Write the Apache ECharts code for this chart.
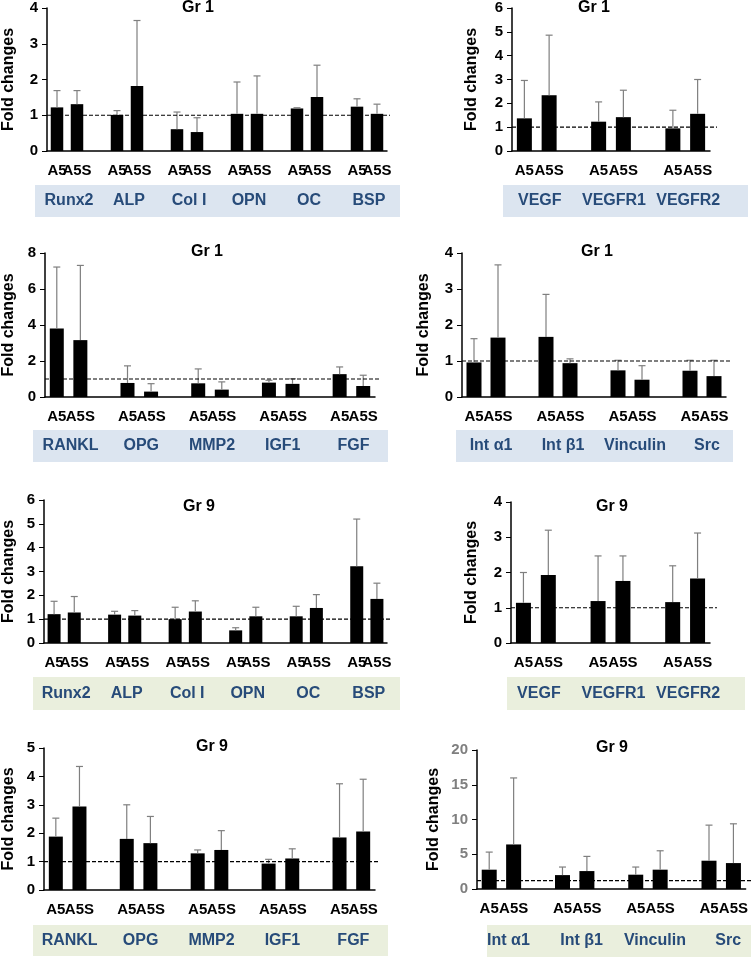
<!DOCTYPE html>
<html>
<head>
<meta charset="utf-8">
<script src="https://cdn.jsdelivr.net/npm/echarts@6/dist/echarts.min.js"></script>
<style>
  html, body { margin: 0; padding: 0; background: #fff; }
  #chart { width: 751px; height: 958px; }
</style>
</head>
<body>
<div id="chart"></div>
<script>
// treatments shown under every bar pair
const treatments = ["A5", "A5S"];

// gene groups
const osteoGenes = ["Runx2", "ALP", "Col I", "OPN", "OC", "BSP"];
const vegfGenes = ["VEGF", "VEGFR1", "VEGFR2"];
const boneGenes = ["RANKL", "OPG", "MMP2", "IGF1", "FGF"];
const adhesionGenes = ["Int α1", "Int β1", "Vinculin", "Src"];

// fold changes, pairs of [A5, A5S] per gene, plus upper SD
const gr1OsteoMean = [1.22, 1.31, 1.01, 1.82, 0.61, 0.53, 1.04, 1.04, 1.19, 1.51, 1.24, 1.04];
const gr1OsteoSd = [0.47, 0.38, 0.12, 1.83, 0.48, 0.40, 0.89, 1.06, 0.02, 0.89, 0.22, 0.27];

const gr1VegfMean = [1.37, 2.34, 1.23, 1.42, 0.95, 1.56];
const gr1VegfSd = [1.59, 2.52, 0.83, 1.13, 0.76, 1.44];

const gr1BoneMean = [3.81, 3.16, 0.78, 0.30, 0.76, 0.41, 0.80, 0.73, 1.27, 0.61];
const gr1BoneSd = [3.41, 4.15, 0.95, 0.44, 0.80, 0.43, 0.13, 0.28, 0.40, 0.60];

const gr1AdhMean = [0.96, 1.65, 1.67, 0.94, 0.74, 0.48, 0.73, 0.58];
const gr1AdhSd = [0.66, 2.02, 1.18, 0.12, 0.28, 0.39, 0.29, 0.44];

const gr9OsteoMean = [1.21, 1.28, 1.19, 1.15, 1.00, 1.32, 0.53, 1.12, 1.12, 1.47, 3.22, 1.85];
const gr9OsteoSd = [0.54, 0.67, 0.14, 0.21, 0.50, 0.45, 0.11, 0.38, 0.42, 0.56, 1.98, 0.66];

const gr9VegfMean = [1.14, 1.93, 1.19, 1.76, 1.16, 1.83];
const gr9VegfSd = [0.86, 1.27, 1.28, 0.71, 1.03, 1.29];

const gr9BoneMean = [1.88, 2.94, 1.80, 1.65, 1.29, 1.41, 0.93, 1.11, 1.85, 2.06];
const gr9BoneSd = [0.65, 1.41, 1.20, 0.94, 0.12, 0.68, 0.15, 0.34, 1.89, 1.84];

const gr9AdhMean = [2.78, 6.41, 2.00, 2.58, 2.06, 2.78, 4.07, 3.73];
const gr9AdhSd = [2.53, 9.57, 1.16, 2.11, 1.10, 2.72, 5.12, 5.65];

// dashed reference level of each panel
const refLevels = [1, 1, 1, 1, 1, 1, 1, 1.2];

const FONT = '"Liberation Sans", Arial, sans-serif';
const BLUE_BAND = "#dce5f0";
const GREEN_BAND = "#eaefdd";
const GENE_COLOR = "#274b79";
const ERR_COLOR = "#7f7f7f";

const panels = [
  { title: "Gr 1", genes: osteoGenes, mean: gr1OsteoMean, sd: gr1OsteoSd, ref: refLevels[0], yMax: 4, yStep: 1,
    grid: { left: 43, top: 8, width: 344, height: 143 }, barWidth: 12.5, titleAt: [198, 8], nameGap: 30,
    band: [35, 185, 365, 32, BLUE_BAND], refExt: 3, geneShift: 2 },
  { title: "Gr 1", genes: vegfGenes, mean: gr1VegfMean, sd: gr1VegfSd, ref: refLevels[1], yMax: 6, yStep: 1,
    grid: { left: 512, top: 8, width: 198, height: 143 }, barWidth: 15, titleAt: [594, 8], nameGap: 32,
    band: [503, 185, 245, 32, BLUE_BAND], refExt: 7, geneShift: 3 },
  { title: "Gr 1", genes: boneGenes, mean: gr1BoneMean, sd: gr1BoneSd, ref: refLevels[2], yMax: 8, yStep: 2,
    grid: { left: 41, top: 253, width: 334, height: 144 }, barWidth: 14, titleAt: [207, 252], nameGap: 28,
    band: [33, 430, 355, 32, BLUE_BAND], refExt: 5, geneShift: 2 },
  { title: "Gr 1", genes: adhesionGenes, mean: gr1AdhMean, sd: gr1AdhSd, ref: refLevels[3], yMax: 4, yStep: 1,
    grid: { left: 462, top: 253, width: 264, height: 144 }, barWidth: 15, titleAt: [597, 252], nameGap: 30,
    band: [456, 430, 277, 32, BLUE_BAND], refExt: 6, geneShift: 5 },
  { title: "Gr 9", genes: osteoGenes, mean: gr9OsteoMean, sd: gr9OsteoSd, ref: refLevels[4], yMax: 6, yStep: 1,
    grid: { left: 40, top: 500, width: 347, height: 143 }, barWidth: 13, titleAt: [199, 507], nameGap: 27,
    band: [33, 677, 367, 33, GREEN_BAND], refExt: 5, geneShift: 2 },
  { title: "Gr 9", genes: vegfGenes, mean: gr9VegfMean, sd: gr9VegfSd, ref: refLevels[5], yMax: 4, yStep: 1,
    grid: { left: 511, top: 502, width: 199, height: 141 }, barWidth: 15, titleAt: [612, 507], nameGap: 31,
    band: [507, 677, 238, 33, GREEN_BAND], refExt: 7, geneShift: 3 },
  { title: "Gr 9", genes: boneGenes, mean: gr9BoneMean, sd: gr9BoneSd, ref: refLevels[6], yMax: 5, yStep: 1,
    grid: { left: 40, top: 748, width: 335, height: 142 }, barWidth: 14, titleAt: [212, 747], nameGap: 27,
    band: [33, 925, 355, 31, GREEN_BAND], refExt: 4, geneShift: 2 },
  { title: "Gr 9", genes: adhesionGenes, mean: gr9AdhMean, sd: gr9AdhSd, ref: refLevels[7], yMax: 20, yStep: 5,
    grid: { left: 477, top: 750, width: 269, height: 139 }, barWidth: 15, titleAt: [612, 748], nameGap: 35,
    band: [487, 925, 264, 32, GREEN_BAND], refExt: 8, geneShift: 7, tickColor: "#7f7f7f" },
];

const chart = echarts.init(document.getElementById("chart"));

const grids = [];
const xAxes = [];
const yAxes = [];
const series = [];
const graphics = [];

panels.forEach((p, i) => {
  const cats = [];
  const bars = [];
  const errs = [];
  const geneSlots = [];
  p.genes.forEach((g, gi) => {
    if (gi > 0) {
      cats.push("");
      bars.push("-");
    }
    geneSlots.push([cats.length, 0, gi]);
    treatments.forEach((t, ti) => {
      const k = gi * 2 + ti;
      errs.push([cats.length, p.mean[k], p.mean[k] + p.sd[k]]);
      cats.push(t);
      bars.push(p.mean[k]);
    });
  });
  const lastSlot = cats.length - 1;
  const bandMid = p.band[1] + p.band[3] / 2;

  grids.push(p.grid);
  xAxes.push({
    gridIndex: i,
    type: "category",
    data: cats,
    axisLine: { lineStyle: { color: "#000", width: 1.5 } },
    axisTick: { show: false },
    axisLabel: { interval: 0, color: "#000", fontWeight: "bold", fontSize: 15, fontFamily: FONT, margin: 12 },
  });
  yAxes.push({
    gridIndex: i,
    type: "value",
    min: 0,
    max: p.yMax,
    interval: p.yStep,
    name: "Fold changes",
    nameLocation: "middle",
    nameGap: p.nameGap,
    nameTextStyle: { color: "#000", fontWeight: "bold", fontSize: 16, fontFamily: FONT },
    axisLine: { show: true, lineStyle: { color: "#000", width: 1.5 } },
    axisTick: { show: true, length: 5, lineStyle: { color: "#000", width: 1 } },
    splitLine: { show: false },
    axisLabel: { color: p.tickColor || "#000", fontWeight: "bold", fontSize: 15, fontFamily: FONT, margin: 9 },
  });

  series.push({
    type: "bar",
    xAxisIndex: i,
    yAxisIndex: i,
    data: bars,
    barWidth: p.barWidth,
    itemStyle: { color: "#000" },
    z: 3,
  });
  // upper error bars
  series.push({
    type: "custom",
    xAxisIndex: i,
    yAxisIndex: i,
    data: errs,
    z: 4,
    renderItem: (params, api) => {
      const base = api.coord([api.value(0), api.value(1)]);
      const top = api.coord([api.value(0), api.value(2)]);
      const style = { stroke: ERR_COLOR, lineWidth: 1.2 };
      return {
        type: "group",
        children: [
          { type: "line", shape: { x1: base[0], y1: base[1], x2: top[0], y2: top[1] }, style },
          { type: "line", shape: { x1: top[0] - 3.5, y1: top[1], x2: top[0] + 3.5, y2: top[1] }, style },
        ],
      };
    },
  });
  // dashed reference line
  series.push({
    type: "custom",
    xAxisIndex: i,
    yAxisIndex: i,
    data: [[0, p.ref]],
    z: 5,
    renderItem: (params, api) => {
      const start = api.coord([0, api.value(1)]);
      const end = api.coord([lastSlot, api.value(1)]);
      const half = api.size([1, 0])[0] / 2;
      return {
        type: "line",
        shape: { x1: start[0] - half, y1: start[1], x2: end[0] + half + p.refExt, y2: end[1] },
        style: { stroke: "#000", lineWidth: 1.2, lineDash: [4, 2] },
      };
    },
  });
  // gene names inside the band
  series.push({
    type: "custom",
    xAxisIndex: i,
    yAxisIndex: i,
    data: geneSlots,
    z: 6,
    renderItem: (params, api) => {
      const slot = api.value(0);
      const a = api.coord([slot, 0]);
      const b = api.coord([slot + 1, 0]);
      return {
        type: "text",
        x: (a[0] + b[0]) / 2 + p.geneShift,
        y: bandMid,
        style: {
          text: p.genes[api.value(2)],
          align: "center",
          verticalAlign: "middle",
          fontSize: 16,
          fontWeight: "bold",
          fontFamily: FONT,
          fill: GENE_COLOR,
        },
      };
    },
  });

  graphics.push({
    type: "rect",
    z: 0,
    shape: { x: p.band[0], y: p.band[1], width: p.band[2], height: p.band[3] },
    style: { fill: p.band[4] },
  });
  graphics.push({
    type: "text",
    x: p.titleAt[0],
    y: p.titleAt[1],
    style: {
      text: p.title,
      align: "center",
      verticalAlign: "middle",
      fontSize: 16,
      fontWeight: "bold",
      fontFamily: FONT,
      fill: "#000",
    },
  });
});

chart.setOption({
  animation: false,
  backgroundColor: "#fff",
  grid: grids,
  xAxis: xAxes,
  yAxis: yAxes,
  series: series,
  graphic: { elements: graphics },
});
</script>
</body>
</html>
